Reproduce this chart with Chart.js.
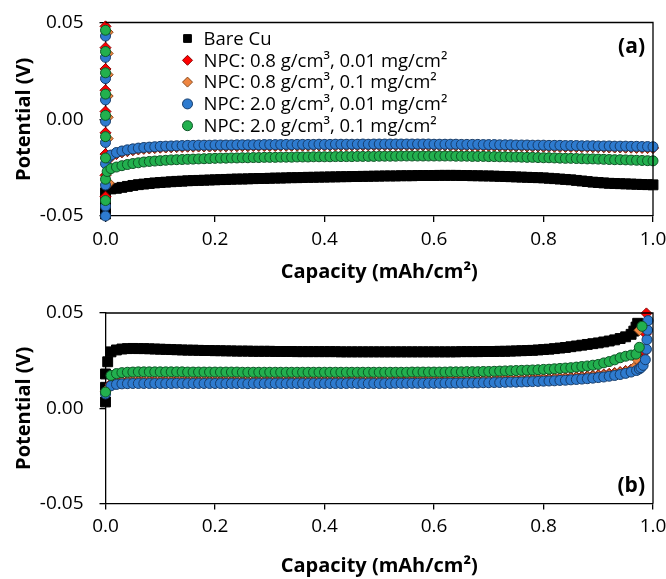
<!DOCTYPE html>
<html>
<head>
<meta charset="utf-8">
<script src="https://cdn.jsdelivr.net/npm/chart.js@4"></script>
<style>
  html, body { margin: 0; padding: 0; background: #fff; }
  #wrapA { position: absolute; left: 0; top: 0; width: 666px; height: 290px; }
  #wrapB { position: absolute; left: 0; top: 290px; width: 666px; height: 289px; }
</style>
</head>
<body>
<div id="wrapA"><canvas id="chartA" width="666" height="290"></canvas></div>
<div id="wrapB"><canvas id="chartB" width="666" height="289"></canvas></div>
<script>
// ---------- series names ----------
const seriesLabels = [
  'Bare Cu',
  'NPC: 0.8 g/cm³, 0.01 mg/cm²',
  'NPC: 0.8 g/cm³, 0.1 mg/cm²',
  'NPC: 2.0 g/cm³, 0.01 mg/cm²',
  'NPC: 2.0 g/cm³, 0.1 mg/cm²'
];

// ---------- axis ticks ----------
const capacityTicks = [0.0, 0.2, 0.4, 0.6, 0.8, 1.0];
const potentialTicks = [-0.05, 0.00, 0.05];

// ---------- panel (a): plating, capacity grid (mAh/cm²) ----------
const capA = [
  0.01,0.02,0.03,0.04,0.05,0.06,0.07,0.08,0.09,0.10,
  0.11,0.12,0.13,0.14,0.15,0.16,0.17,0.18,0.19,0.20,
  0.21,0.22,0.23,0.24,0.25,0.26,0.27,0.28,0.29,0.30,
  0.31,0.32,0.33,0.34,0.35,0.36,0.37,0.38,0.39,0.40,
  0.41,0.42,0.43,0.44,0.45,0.46,0.47,0.48,0.49,0.50,
  0.51,0.52,0.53,0.54,0.55,0.56,0.57,0.58,0.59,0.60,
  0.61,0.62,0.63,0.64,0.65,0.66,0.67,0.68,0.69,0.70,
  0.71,0.72,0.73,0.74,0.75,0.76,0.77,0.78,0.79,0.80,
  0.81,0.82,0.83,0.84,0.85,0.86,0.87,0.88,0.89,0.90,
  0.91,0.92,0.93,0.94,0.95,0.96,0.97,0.98,0.99,1.00
];

// potentials (V)
const bareCuA = [
  -0.0360,-0.0357,-0.0352,-0.0347,-0.0342,-0.0338,-0.0335,-0.0332,-0.0329,-0.0327,
  -0.0325,-0.0323,-0.0321,-0.0320,-0.0318,-0.0317,-0.0316,-0.0315,-0.0314,-0.0313,
  -0.0312,-0.0311,-0.0310,-0.0309,-0.0309,-0.0308,-0.0307,-0.0306,-0.0306,-0.0305,
  -0.0304,-0.0304,-0.0303,-0.0302,-0.0302,-0.0301,-0.0300,-0.0300,-0.0299,-0.0299,
  -0.0298,-0.0298,-0.0297,-0.0297,-0.0296,-0.0296,-0.0295,-0.0295,-0.0294,-0.0294,
  -0.0293,-0.0293,-0.0293,-0.0292,-0.0292,-0.0292,-0.0291,-0.0291,-0.0291,-0.0291,
  -0.0290,-0.0290,-0.0290,-0.0290,-0.0291,-0.0291,-0.0292,-0.0292,-0.0293,-0.0293,
  -0.0294,-0.0295,-0.0296,-0.0297,-0.0298,-0.0299,-0.0300,-0.0301,-0.0302,-0.0303,
  -0.0305,-0.0307,-0.0309,-0.0311,-0.0313,-0.0316,-0.0319,-0.0322,-0.0325,-0.0327,
  -0.0329,-0.0331,-0.0332,-0.0333,-0.0334,-0.0335,-0.0336,-0.0337,-0.0338,-0.0339
];
const npc08low_A = [
  -0.0195,-0.0180,-0.0171,-0.0165,-0.0160,-0.0156,-0.0153,-0.0151,-0.0149,-0.0147,
  -0.0146,-0.0145,-0.0144,-0.0143,-0.0142,-0.0142,-0.0141,-0.0141,-0.0141,-0.0140,
  -0.0140,-0.0140,-0.0139,-0.0139,-0.0139,-0.0139,-0.0138,-0.0138,-0.0138,-0.0138,
  -0.0138,-0.0137,-0.0137,-0.0137,-0.0137,-0.0137,-0.0137,-0.0136,-0.0136,-0.0136,
  -0.0136,-0.0136,-0.0136,-0.0136,-0.0135,-0.0135,-0.0135,-0.0135,-0.0135,-0.0135,
  -0.0135,-0.0135,-0.0135,-0.0135,-0.0135,-0.0135,-0.0135,-0.0135,-0.0136,-0.0136,
  -0.0136,-0.0136,-0.0136,-0.0137,-0.0137,-0.0137,-0.0137,-0.0138,-0.0138,-0.0138,
  -0.0139,-0.0139,-0.0139,-0.0140,-0.0140,-0.0140,-0.0141,-0.0141,-0.0141,-0.0142,
  -0.0142,-0.0142,-0.0143,-0.0143,-0.0143,-0.0144,-0.0144,-0.0144,-0.0145,-0.0145,
  -0.0145,-0.0146,-0.0146,-0.0146,-0.0147,-0.0147,-0.0148,-0.0148,-0.0149,-0.0149
];
const npc08high_A = [
  -0.0190,-0.0176,-0.0168,-0.0162,-0.0157,-0.0153,-0.0150,-0.0148,-0.0146,-0.0144,
  -0.0143,-0.0142,-0.0141,-0.0140,-0.0139,-0.0139,-0.0138,-0.0138,-0.0138,-0.0137,
  -0.0137,-0.0137,-0.0136,-0.0136,-0.0136,-0.0136,-0.0135,-0.0135,-0.0135,-0.0135,
  -0.0135,-0.0134,-0.0134,-0.0134,-0.0134,-0.0134,-0.0134,-0.0133,-0.0133,-0.0133,
  -0.0133,-0.0133,-0.0133,-0.0133,-0.0132,-0.0132,-0.0132,-0.0132,-0.0132,-0.0132,
  -0.0132,-0.0132,-0.0132,-0.0132,-0.0132,-0.0132,-0.0132,-0.0132,-0.0133,-0.0133,
  -0.0133,-0.0133,-0.0133,-0.0134,-0.0134,-0.0134,-0.0134,-0.0135,-0.0135,-0.0135,
  -0.0136,-0.0136,-0.0136,-0.0137,-0.0137,-0.0137,-0.0138,-0.0138,-0.0138,-0.0139,
  -0.0139,-0.0139,-0.0140,-0.0140,-0.0140,-0.0141,-0.0141,-0.0141,-0.0142,-0.0142,
  -0.0142,-0.0143,-0.0143,-0.0143,-0.0144,-0.0144,-0.0145,-0.0145,-0.0146,-0.0146
];
const npc20low_A = [
  -0.0185,-0.0172,-0.0164,-0.0158,-0.0153,-0.0149,-0.0146,-0.0144,-0.0142,-0.0140,
  -0.0139,-0.0138,-0.0137,-0.0136,-0.0135,-0.0135,-0.0134,-0.0134,-0.0134,-0.0133,
  -0.0133,-0.0133,-0.0133,-0.0132,-0.0132,-0.0132,-0.0132,-0.0132,-0.0131,-0.0131,
  -0.0131,-0.0131,-0.0130,-0.0131,-0.0130,-0.0130,-0.0130,-0.0130,-0.0129,-0.0130,
  -0.0130,-0.0129,-0.0129,-0.0129,-0.0129,-0.0129,-0.0128,-0.0129,-0.0128,-0.0128,
  -0.0128,-0.0128,-0.0128,-0.0128,-0.0128,-0.0128,-0.0128,-0.0128,-0.0128,-0.0129,
  -0.0129,-0.0129,-0.0129,-0.0129,-0.0130,-0.0130,-0.0130,-0.0130,-0.0131,-0.0131,
  -0.0131,-0.0132,-0.0132,-0.0132,-0.0133,-0.0133,-0.0133,-0.0134,-0.0134,-0.0134,
  -0.0135,-0.0135,-0.0135,-0.0136,-0.0136,-0.0136,-0.0137,-0.0137,-0.0137,-0.0138,
  -0.0138,-0.0138,-0.0139,-0.0139,-0.0139,-0.0140,-0.0140,-0.0141,-0.0141,-0.0142
];
const npc20high_A = [
  -0.0255,-0.0247,-0.0240,-0.0234,-0.0229,-0.0225,-0.0221,-0.0218,-0.0216,-0.0214,
  -0.0212,-0.0210,-0.0209,-0.0208,-0.0207,-0.0206,-0.0205,-0.0204,-0.0203,-0.0202,
  -0.0201,-0.0201,-0.0200,-0.0200,-0.0199,-0.0199,-0.0198,-0.0198,-0.0197,-0.0197,
  -0.0197,-0.0196,-0.0196,-0.0196,-0.0195,-0.0195,-0.0195,-0.0194,-0.0194,-0.0194,
  -0.0194,-0.0193,-0.0193,-0.0193,-0.0193,-0.0192,-0.0192,-0.0192,-0.0192,-0.0191,
  -0.0191,-0.0191,-0.0191,-0.0190,-0.0190,-0.0190,-0.0190,-0.0190,-0.0190,-0.0190,
  -0.0190,-0.0190,-0.0190,-0.0191,-0.0191,-0.0191,-0.0192,-0.0192,-0.0192,-0.0193,
  -0.0193,-0.0194,-0.0194,-0.0195,-0.0195,-0.0196,-0.0197,-0.0197,-0.0198,-0.0199,
  -0.0199,-0.0200,-0.0201,-0.0202,-0.0202,-0.0203,-0.0204,-0.0205,-0.0205,-0.0206,
  -0.0207,-0.0208,-0.0209,-0.0209,-0.0210,-0.0211,-0.0212,-0.0213,-0.0214,-0.0215
];

// initial potential swing at ~zero capacity, [capacity, potential]
const bareCuHeadA = [[0,-0.0490],[0,-0.0460],[0,-0.0420],[0,-0.0380],[0.004,-0.0355]];
const npc08low_HeadA = [[0,0.0480],[0,0.0370],[0,0.0260],[0,0.0150],[0,0.0040],[0,-0.0070],[0,-0.0180],[0,-0.0290],[0,-0.0400]];
const npc08high_HeadA = [[0.004,0.0450],[0.004,0.0340],[0.004,0.0230],[0.004,0.0120],[0.004,0.0010],[0.004,-0.0100],[0.004,-0.0210],[0.006,-0.0330]];
const npc20low_HeadA = [[0,0.0430],[0,0.0320],[0,0.0210],[0,0.0100],[0,-0.0010],[0,-0.0120],[0,-0.0230],[0,-0.0340],[0,-0.0450],[0,-0.0500],[0.004,-0.0200]];
const npc20high_HeadA = [[0,0.0460],[0,0.0350],[0,0.0240],[0,0.0130],[0,0.0020],[0,-0.0090],[0,-0.0200],[0,-0.0310],[0,-0.0420],[0.003,-0.0270]];

// ---------- panel (b): stripping, capacity grid (mAh/cm²) ----------
const capB = [
  0.01,0.02,0.03,0.04,0.05,0.06,0.07,0.08,0.09,0.10,
  0.11,0.12,0.13,0.14,0.15,0.16,0.17,0.18,0.19,0.20,
  0.21,0.22,0.23,0.24,0.25,0.26,0.27,0.28,0.29,0.30,
  0.31,0.32,0.33,0.34,0.35,0.36,0.37,0.38,0.39,0.40,
  0.41,0.42,0.43,0.44,0.45,0.46,0.47,0.48,0.49,0.50,
  0.51,0.52,0.53,0.54,0.55,0.56,0.57,0.58,0.59,0.60,
  0.61,0.62,0.63,0.64,0.65,0.66,0.67,0.68,0.69,0.70,
  0.71,0.72,0.73,0.74,0.75,0.76,0.77,0.78,0.79,0.80,
  0.81,0.82,0.83,0.84,0.85,0.86,0.87,0.88,0.89,0.90,
  0.91,0.92,0.93,0.94,0.95,0.96
];

const bareCuB = [
  0.0296,0.0306,0.0311,0.0313,0.0314,0.0313,0.0313,0.0312,0.0311,0.0310,
  0.0309,0.0308,0.0307,0.0306,0.0305,0.0305,0.0304,0.0303,0.0303,0.0302,
  0.0302,0.0301,0.0301,0.0300,0.0300,0.0300,0.0299,0.0299,0.0299,0.0299,
  0.0298,0.0298,0.0298,0.0298,0.0297,0.0297,0.0297,0.0297,0.0297,0.0297,
  0.0297,0.0297,0.0296,0.0296,0.0296,0.0296,0.0296,0.0296,0.0296,0.0296,
  0.0296,0.0296,0.0296,0.0296,0.0296,0.0296,0.0296,0.0296,0.0296,0.0296,
  0.0296,0.0296,0.0296,0.0296,0.0297,0.0297,0.0297,0.0297,0.0298,0.0298,
  0.0298,0.0299,0.0299,0.0300,0.0301,0.0302,0.0303,0.0304,0.0306,0.0308,
  0.0310,0.0313,0.0316,0.0319,0.0323,0.0327,0.0331,0.0335,0.0339,0.0343,
  0.0348,0.0353,0.0359,0.0366,0.0375,0.0388
];
const npc08low_B = [
  0.0128,0.0137,0.0141,0.0142,0.0143,0.0143,0.0143,0.0143,0.0143,0.0143,
  0.0143,0.0143,0.0144,0.0143,0.0143,0.0143,0.0143,0.0143,0.0143,0.0143,
  0.0143,0.0143,0.0143,0.0143,0.0143,0.0142,0.0143,0.0143,0.0143,0.0143,
  0.0143,0.0143,0.0143,0.0143,0.0143,0.0143,0.0143,0.0143,0.0143,0.0143,
  0.0143,0.0143,0.0143,0.0143,0.0144,0.0143,0.0143,0.0143,0.0143,0.0143,
  0.0143,0.0143,0.0144,0.0144,0.0144,0.0144,0.0144,0.0144,0.0144,0.0144,
  0.0144,0.0145,0.0145,0.0145,0.0145,0.0146,0.0146,0.0146,0.0147,0.0147,
  0.0148,0.0148,0.0149,0.0150,0.0150,0.0151,0.0152,0.0153,0.0154,0.0155,
  0.0156,0.0157,0.0159,0.0160,0.0162,0.0164,0.0166,0.0168,0.0171,0.0174,
  0.0177,0.0181,0.0185,0.0190,0.0196,0.0203
];
const npc08high_B = [
  0.0125,0.0133,0.0137,0.0138,0.0139,0.0139,0.0139,0.0139,0.0139,0.0139,
  0.0139,0.0139,0.0140,0.0139,0.0139,0.0139,0.0139,0.0139,0.0139,0.0139,
  0.0139,0.0139,0.0139,0.0139,0.0139,0.0138,0.0139,0.0139,0.0139,0.0139,
  0.0139,0.0139,0.0139,0.0139,0.0139,0.0139,0.0139,0.0139,0.0139,0.0139,
  0.0139,0.0139,0.0139,0.0139,0.0140,0.0139,0.0139,0.0139,0.0139,0.0139,
  0.0139,0.0139,0.0140,0.0140,0.0140,0.0140,0.0140,0.0140,0.0140,0.0140,
  0.0140,0.0141,0.0141,0.0141,0.0141,0.0142,0.0142,0.0142,0.0143,0.0143,
  0.0144,0.0144,0.0145,0.0146,0.0146,0.0147,0.0148,0.0149,0.0150,0.0151,
  0.0152,0.0153,0.0155,0.0156,0.0158,0.0160,0.0162,0.0164,0.0167,0.0170,
  0.0173,0.0177,0.0181,0.0186,0.0192,0.0199
];
const npc20low_B = [
  0.0118,0.0125,0.0128,0.0129,0.0130,0.0130,0.0130,0.0130,0.0130,0.0130,
  0.0130,0.0130,0.0131,0.0130,0.0130,0.0130,0.0130,0.0130,0.0130,0.0130,
  0.0130,0.0130,0.0130,0.0130,0.0130,0.0129,0.0130,0.0130,0.0130,0.0130,
  0.0130,0.0130,0.0130,0.0130,0.0130,0.0130,0.0130,0.0130,0.0130,0.0130,
  0.0130,0.0130,0.0130,0.0130,0.0131,0.0130,0.0130,0.0130,0.0130,0.0130,
  0.0130,0.0130,0.0131,0.0131,0.0131,0.0131,0.0131,0.0131,0.0131,0.0131,
  0.0131,0.0132,0.0132,0.0132,0.0132,0.0133,0.0133,0.0133,0.0134,0.0134,
  0.0135,0.0135,0.0136,0.0137,0.0137,0.0138,0.0139,0.0140,0.0141,0.0142,
  0.0143,0.0144,0.0146,0.0147,0.0149,0.0151,0.0153,0.0155,0.0158,0.0161,
  0.0164,0.0168,0.0172,0.0177,0.0183,0.0190
];
const npc20high_B = [
  0.0172,0.0182,0.0187,0.0189,0.0190,0.0191,0.0191,0.0191,0.0191,0.0191,
  0.0191,0.0191,0.0191,0.0191,0.0190,0.0190,0.0190,0.0190,0.0190,0.0190,
  0.0190,0.0190,0.0190,0.0190,0.0189,0.0189,0.0189,0.0189,0.0189,0.0189,
  0.0189,0.0189,0.0189,0.0189,0.0189,0.0189,0.0189,0.0189,0.0189,0.0189,
  0.0189,0.0189,0.0189,0.0189,0.0189,0.0189,0.0189,0.0189,0.0189,0.0189,
  0.0189,0.0189,0.0189,0.0189,0.0189,0.0190,0.0190,0.0190,0.0190,0.0190,
  0.0190,0.0190,0.0191,0.0191,0.0191,0.0192,0.0192,0.0192,0.0193,0.0193,
  0.0194,0.0195,0.0196,0.0197,0.0198,0.0199,0.0200,0.0201,0.0202,0.0204,
  0.0205,0.0207,0.0209,0.0211,0.0213,0.0216,0.0219,0.0222,0.0226,0.0230,
  0.0238,0.0245,0.0254,0.0265,0.0273,0.0279
];

// start of stripping and the final rise, [capacity, potential]
const bareCuHeadB = [[0,0.0033],[0,0.0110],[0,0.0180],[0.004,0.0244]];
const npc08low_HeadB = [[0,0.0080]];
const npc08high_HeadB = [[0,0.0090]];
const npc20low_HeadB = [[0,0.0075]];
const npc20high_HeadB = [[0,0.0085]];

const bareCuTailB = [[0.965,0.0405],[0.969,0.0426],[0.972,0.0446]];
const npc08low_TailB = [[0.970,0.0212],[0.977,0.0232],[0.982,0.0262],[0.985,0.0296],[0.987,0.0390],[0.988,0.0498]];
const npc08high_TailB = [[0.965,0.0212],[0.970,0.0260],[0.975,0.0410]];
const npc20low_TailB = [[0.970,0.0198],[0.975,0.0206],[0.978,0.0213],[0.982,0.0225],[0.986,0.0255],[0.988,0.0310],[0.989,0.0360],[0.990,0.0410],[0.991,0.0460]];
const npc20high_TailB = [[0.969,0.0284],[0.975,0.0320],[0.980,0.0430]];

// ---------- helpers ----------
const zip = (xs, ys) => xs.map((x, i) => ({ x: x, y: ys[i] }));
const pairs = list => list.map(p => ({ x: p[0], y: p[1] }));

// marker styles per series (Bare Cu, NPC 0.8/0.01, NPC 0.8/0.1, NPC 2.0/0.01, NPC 2.0/0.1)
const markerStyles = [
  { pointStyle: 'rect',    radius: 7,   keyRadius: 5.5, fill: '#000000', edge: '#000000', order: 5 },
  { pointStyle: 'rectRot', radius: 5.5, keyRadius: 5,   fill: '#ff0000', edge: '#8b0000', order: 4 },
  { pointStyle: 'rectRot', radius: 5.5, keyRadius: 5,   fill: '#ef8540', edge: '#8a4a1c', order: 3 },
  { pointStyle: 'circle',  radius: 5,   keyRadius: 5,   fill: '#2e7bcf', edge: '#173d6b', order: 2 },
  { pointStyle: 'circle',  radius: 5,   keyRadius: 5,   fill: '#22b04e', edge: '#0e5526', order: 1 }
];

function buildDatasets(seriesPoints) {
  return seriesPoints.map((pts, i) => {
    const s = markerStyles[i];
    return {
      label: seriesLabels[i],
      data: pts,
      showLine: false,
      pointStyle: s.pointStyle,
      pointRadius: s.radius,
      pointHoverRadius: s.radius,
      pointBackgroundColor: s.fill,
      pointBorderColor: s.edge,
      pointBorderWidth: 1,
      backgroundColor: s.fill,
      borderColor: s.edge,
      order: s.order,
      clip: false
    };
  });
}

const dataA = buildDatasets([
  pairs(bareCuHeadA).concat(zip(capA, bareCuA)),
  pairs(npc08low_HeadA).concat(zip(capA, npc08low_A)),
  pairs(npc08high_HeadA).concat(zip(capA, npc08high_A)),
  pairs(npc20low_HeadA).concat(zip(capA, npc20low_A)),
  pairs(npc20high_HeadA).concat(zip(capA, npc20high_A))
]);
const dataB = buildDatasets([
  pairs(bareCuHeadB).concat(zip(capB, bareCuB), pairs(bareCuTailB)),
  pairs(npc08low_HeadB).concat(zip(capB, npc08low_B), pairs(npc08low_TailB)),
  pairs(npc08high_HeadB).concat(zip(capB, npc08high_B), pairs(npc08high_TailB)),
  pairs(npc20low_HeadB).concat(zip(capB, npc20low_B), pairs(npc20low_TailB)),
  pairs(npc20high_HeadB).concat(zip(capB, npc20high_B), pairs(npc20high_TailB))
]);

// ---------- plugins ----------
const FONT = '"Open Sans", "DejaVu Sans", sans-serif';

// top and right edges of the plot frame
const framePlugin = {
  id: 'frame',
  afterDraw(chart) {
    const { ctx, chartArea: a } = chart;
    ctx.save();
    ctx.strokeStyle = '#000';
    ctx.lineWidth = 1.3;
    ctx.beginPath();
    ctx.moveTo(a.left, a.top);
    ctx.lineTo(a.right, a.top);
    ctx.lineTo(a.right, a.bottom);
    ctx.stroke();
    ctx.restore();
  }
};

// panel tag, e.g. "(a)"
const tagPlugin = {
  id: 'panelTag',
  afterDraw(chart, args, opts) {
    const { ctx, chartArea: a } = chart;
    ctx.save();
    ctx.font = 'bold 21px ' + FONT;
    ctx.fillStyle = '#000';
    ctx.textAlign = 'right';
    ctx.textBaseline = 'middle';
    const y = opts.where === 'top' ? a.top + 25 : a.bottom - 17;
    ctx.fillText(opts.text, a.right - 8, y);
    ctx.restore();
  }
};

// series key drawn inside the upper plot
const keyPlugin = {
  id: 'innerKey',
  afterDraw(chart, args, opts) {
    if (!opts.show) return;
    const { ctx, chartArea: a } = chart;
    ctx.save();
    ctx.font = '18.5px ' + FONT;
    ctx.textBaseline = 'middle';
    chart.data.datasets.forEach((ds, i) => {
      const y = a.top + 16 + i * 21.8;
      const x = a.left + 82;
      ctx.fillStyle = ds.pointBackgroundColor;
      ctx.strokeStyle = ds.pointBorderColor;
      ctx.lineWidth = 1;
      Chart.helpers.drawPoint(ctx, {
        pointStyle: ds.pointStyle,
        radius: markerStyles[i].keyRadius,
        borderWidth: 1,
        rotation: 0
      }, x, y);
      ctx.fillStyle = '#000';
      ctx.fillText(ds.label, x + 16, y + 1);
    });
    ctx.restore();
  }
};

function makeOptions(cfg) {
  return {
    responsive: false,
    animation: false,
    events: [],
    layout: { padding: { left: 0, right: 13, top: cfg.top, bottom: 0 } },
    plugins: {
      legend: { display: false },
      tooltip: { enabled: false },
      panelTag: { text: cfg.tag, where: cfg.tagWhere },
      innerKey: { show: cfg.key }
    },
    scales: {
      x: {
        type: 'linear',
        min: capacityTicks[0],
        max: capacityTicks[capacityTicks.length - 1],
        afterBuildTicks: s => { s.ticks = capacityTicks.map(v => ({ value: v })); },
        ticks: {
          color: '#000',
          padding: 6,
          maxRotation: 0,
          autoSkip: false,
          font: { family: FONT, size: 19 },
          callback: v => Number(v).toFixed(1)
        },
        grid: { display: true, drawOnChartArea: false, drawTicks: true, tickLength: 6, color: '#000', lineWidth: 1.3 },
        border: { display: true, color: '#000', width: 1.3 },
        title: {
          display: true,
          text: 'Capacity (mAh/cm²)',
          color: '#000',
          font: { family: FONT, size: 20, weight: 'bold' },
          padding: { top: 0, bottom: cfg.titlePad }
        },
        afterFit: s => { s.height = cfg.xHeight; s.paddingLeft = 0; s.paddingRight = 0; }
      },
      y: {
        type: 'linear',
        min: potentialTicks[0],
        max: potentialTicks[potentialTicks.length - 1],
        afterBuildTicks: s => { s.ticks = potentialTicks.map(v => ({ value: v })); },
        ticks: {
          color: '#000',
          padding: 16,
          autoSkip: false,
          font: { family: FONT, size: 19 },
          callback: v => Number(v).toFixed(2)
        },
        grid: { display: true, drawOnChartArea: false, drawTicks: true, tickLength: 6, color: '#000', lineWidth: 1.3 },
        border: { display: true, color: '#000', width: 1.3 },
        title: {
          display: true,
          text: 'Potential (V)',
          color: '#000',
          font: { family: FONT, size: 20, weight: 'bold' },
          padding: { top: 12, bottom: 0 }
        },
        afterFit: s => { s.width = 105.5; s.paddingTop = 0; s.paddingBottom = 0; }
      }
    }
  };
}

new Chart(document.getElementById('chartA'), {
  type: 'scatter',
  data: { datasets: dataA },
  options: makeOptions({ top: 22.5, xHeight: 74, titlePad: 6, tag: '(a)', tagWhere: 'top', key: true }),
  plugins: [framePlugin, tagPlugin, keyPlugin]
});

new Chart(document.getElementById('chartB'), {
  type: 'scatter',
  data: { datasets: dataB },
  options: makeOptions({ top: 23, xHeight: 75.5, titlePad: 1, tag: '(b)', tagWhere: 'bottom', key: false }),
  plugins: [framePlugin, tagPlugin, keyPlugin]
});
</script>
</body>
</html>
